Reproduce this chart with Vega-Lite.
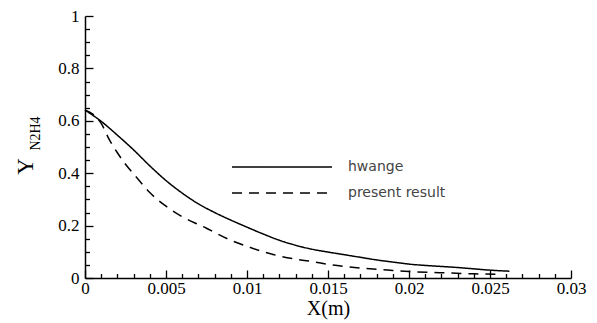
{
  "$schema": "https://vega.github.io/schema/vega-lite/v6.json",
  "width": 486,
  "height": 262,
  "autosize": {"type": "none"},
  "padding": {"left": 85, "top": 16, "right": 26, "bottom": 45},
  "background": "white",
  "config": {
    "view": {"stroke": null},
    "axis": {"grid": false, "domainColor": "black", "domainWidth": 1.5, "tickColor": "black", "tickWidth": 1.3, "labelColor": "black", "titleColor": "black", "labelFont": "Liberation Serif", "titleFont": "Liberation Serif", "titleFontWeight": "normal", "labelFlush": false, "labelOverlap": false}
  },
  "data": {
    "values": [
      {"series": "hwange", "x": 0, "y": 0.641},
      {"series": "hwange", "x": 0.001, "y": 0.598},
      {"series": "hwange", "x": 0.002, "y": 0.545},
      {"series": "hwange", "x": 0.003, "y": 0.489},
      {"series": "hwange", "x": 0.004, "y": 0.428},
      {"series": "hwange", "x": 0.005, "y": 0.372},
      {"series": "hwange", "x": 0.006, "y": 0.324},
      {"series": "hwange", "x": 0.007, "y": 0.283},
      {"series": "hwange", "x": 0.008, "y": 0.25},
      {"series": "hwange", "x": 0.009, "y": 0.221},
      {"series": "hwange", "x": 0.01, "y": 0.194},
      {"series": "hwange", "x": 0.011, "y": 0.168},
      {"series": "hwange", "x": 0.012, "y": 0.144},
      {"series": "hwange", "x": 0.013, "y": 0.125},
      {"series": "hwange", "x": 0.014, "y": 0.11},
      {"series": "hwange", "x": 0.015, "y": 0.099},
      {"series": "hwange", "x": 0.016, "y": 0.089},
      {"series": "hwange", "x": 0.017, "y": 0.079},
      {"series": "hwange", "x": 0.018, "y": 0.069},
      {"series": "hwange", "x": 0.019, "y": 0.061},
      {"series": "hwange", "x": 0.02, "y": 0.053},
      {"series": "hwange", "x": 0.021, "y": 0.048},
      {"series": "hwange", "x": 0.022, "y": 0.044},
      {"series": "hwange", "x": 0.023, "y": 0.04},
      {"series": "hwange", "x": 0.024, "y": 0.035},
      {"series": "hwange", "x": 0.025, "y": 0.03},
      {"series": "hwange", "x": 0.0262, "y": 0.026},
      {"series": "present result", "x": 0, "y": 0.64},
      {"series": "present result", "x": 0.0005, "y": 0.625},
      {"series": "present result", "x": 0.001, "y": 0.59},
      {"series": "present result", "x": 0.0015, "y": 0.528},
      {"series": "present result", "x": 0.002, "y": 0.478},
      {"series": "present result", "x": 0.0025, "y": 0.434},
      {"series": "present result", "x": 0.003, "y": 0.397},
      {"series": "present result", "x": 0.0035, "y": 0.361},
      {"series": "present result", "x": 0.004, "y": 0.326},
      {"series": "present result", "x": 0.005, "y": 0.274},
      {"series": "present result", "x": 0.006, "y": 0.234},
      {"series": "present result", "x": 0.007, "y": 0.204},
      {"series": "present result", "x": 0.0075, "y": 0.19},
      {"series": "present result", "x": 0.008, "y": 0.174},
      {"series": "present result", "x": 0.009, "y": 0.144},
      {"series": "present result", "x": 0.01, "y": 0.121},
      {"series": "present result", "x": 0.011, "y": 0.1},
      {"series": "present result", "x": 0.012, "y": 0.084},
      {"series": "present result", "x": 0.013, "y": 0.072},
      {"series": "present result", "x": 0.014, "y": 0.063},
      {"series": "present result", "x": 0.015, "y": 0.052},
      {"series": "present result", "x": 0.016, "y": 0.044},
      {"series": "present result", "x": 0.017, "y": 0.038},
      {"series": "present result", "x": 0.018, "y": 0.033},
      {"series": "present result", "x": 0.019, "y": 0.029},
      {"series": "present result", "x": 0.02, "y": 0.025},
      {"series": "present result", "x": 0.0225, "y": 0.019},
      {"series": "present result", "x": 0.024, "y": 0.016},
      {"series": "present result", "x": 0.0256, "y": 0.014}
    ]
  },
  "layer": [
    {
      "mark": {"type": "line", "interpolate": "monotone", "strokeWidth": 1.5, "color": "black"},
      "encoding": {
        "x": {
          "field": "x", "type": "quantitative",
          "scale": {"domain": [0, 0.03], "nice": false},
          "axis": {"orient": "bottom", "values": [0, 0.005, 0.01, 0.015, 0.02, 0.025, 0.03], "format": "~g", "labelFontSize": 17, "tickSize": -8, "labelPadding": 10, "title": "X(m)", "titleFontSize": 20, "titlePadding": 2}
        },
        "y": {
          "field": "y", "type": "quantitative",
          "scale": {"domain": [0, 1], "nice": false},
          "axis": {"orient": "left", "values": [0, 0.2, 0.4, 0.6, 0.8, 1], "format": "~g", "labelFontSize": 17, "tickSize": -8, "labelPadding": 14, "title": "Y", "titleFontSize": 23, "titleAngle": 270, "titleAlign": "center", "titleBaseline": "middle", "titleX": -60, "titleY": 150}
        },
        "strokeDash": {
          "field": "series", "type": "nominal",
          "scale": {"domain": ["hwange", "present result"], "range": [[1, 0], [10, 7]]},
          "legend": {"orient": "none", "legendX": 186, "legendY": 140, "title": null, "symbolType": "M-5,0H5", "symbolSize": 400, "symbolStrokeWidth": 1.5, "symbolStrokeColor": "black", "symbolFillColor": "transparent", "labelFont": "DejaVu Sans", "labelFontSize": 14, "labelColor": "#444", "labelOffset": 55, "rowPadding": 8, "padding": 0}
        }
      }
    },
    {
      "mark": {"type": "line", "opacity": 0},
      "encoding": {
        "x": {
          "field": "x", "type": "quantitative",
          "scale": {"domain": [0, 0.03], "nice": false},
          "axis": {"orient": "bottom", "values": [0.001, 0.002, 0.003, 0.004, 0.006, 0.007, 0.008, 0.009, 0.011, 0.012, 0.013, 0.014, 0.016, 0.017, 0.018, 0.019, 0.021, 0.022, 0.023, 0.024, 0.026, 0.027, 0.028, 0.029], "labels": false, "domain": false, "tickSize": -4.5, "title": null}
        },
        "y": {
          "field": "y", "type": "quantitative",
          "scale": {"domain": [0, 1], "nice": false},
          "axis": {"orient": "left", "values": [0.05, 0.1, 0.15, 0.25, 0.3, 0.35, 0.45, 0.5, 0.55, 0.65, 0.7, 0.75, 0.85, 0.9, 0.95], "labels": false, "domain": false, "tickSize": -4.5, "title": "N2H4", "titleFontSize": 14, "titleAngle": 270, "titleAlign": "center", "titleBaseline": "middle", "titleX": -50, "titleY": 117}
        },
        "detail": {"field": "series"}
      }
    }
  ],
  "resolve": {"axis": {"x": "independent", "y": "independent"}}
}
